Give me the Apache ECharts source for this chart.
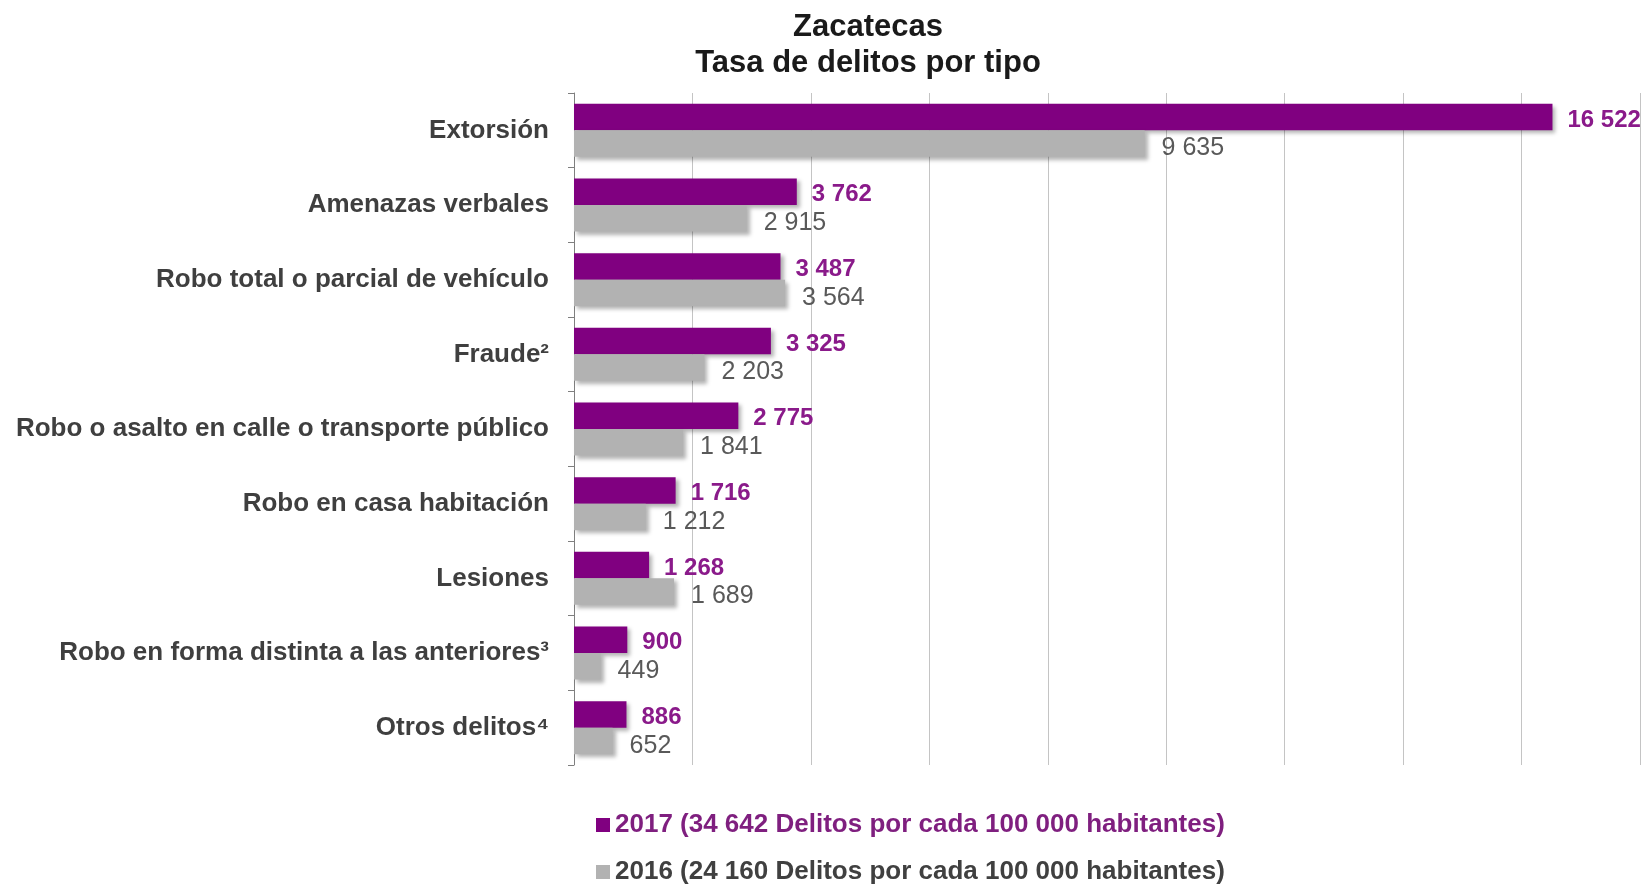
<!DOCTYPE html>
<html>
<head>
<meta charset="utf-8">
<script src="https://cdn.jsdelivr.net/npm/echarts@6/dist/echarts.min.js"></script>
<style>
html,body{margin:0;padding:0;background:#fff;}
#chart{width:1650px;height:885px;}
</style>
</head>
<body>
<div id="chart"></div>
<script>
const categories = [
  'Extorsión',
  'Amenazas verbales',
  'Robo total o parcial de vehículo',
  'Fraude²',
  'Robo o asalto en calle o transporte público',
  'Robo en casa habitación',
  'Lesiones',
  'Robo en forma distinta a las anteriores³',
  'Otros delitos⁴'
];
const values2017 = [16522, 3762, 3487, 3325, 2775, 1716, 1268, 900, 886];
const values2016 = [9635, 2915, 3564, 2203, 1841, 1212, 1689, 449, 652];
const seriesNames = [
  '2017 (34 642 Delitos por cada 100 000 habitantes)',
  '2016 (24 160 Delitos por cada 100 000 habitantes)'
];
const titleText = 'Zacatecas\nTasa de delitos por tipo';

function fmt(v) {
  return String(v).replace(/\B(?=(\d{3})+(?!\d))/g, ' ');
}

const FONT = '"Liberation Sans", Arial, sans-serif';
const chart = echarts.init(document.getElementById('chart'));
const shadow = {shadowBlur: 4, shadowOffsetX: 3, shadowOffsetY: 3, shadowColor: 'rgba(0,0,0,0.3)'};

chart.setOption({
  animation: false,
  backgroundColor: '#ffffff',
  title: {
    text: titleText,
    left: 863,
    top: 4,
    textAlign: 'center',
    textStyle: {fontFamily: FONT, fontSize: 31, fontWeight: 'bold', color: '#1a1a1a', lineHeight: 36}
  },
  legend: {
    orient: 'vertical',
    left: 591,
    top: 807,
    height: 200,
    itemWidth: 14,
    itemHeight: 14,
    itemGap: 21,
    icon: 'rect',
    textStyle: {fontFamily: FONT, fontSize: 26, fontWeight: 'bold', lineHeight: 26},
    data: [
      {name: seriesNames[0], textStyle: {color: '#7f1f7f'}},
      {name: seriesNames[1], textStyle: {color: '#404040'}}
    ]
  },
  grid: {left: 574, right: 10, top: 93, bottom: 120, containLabel: false},
  xAxis: {
    type: 'value',
    min: 0,
    max: 18000,
    interval: 2000,
    axisLine: {show: false},
    axisTick: {show: false},
    axisLabel: {show: false},
    splitLine: {show: true, lineStyle: {color: '#c4c4c4', width: 1}}
  },
  yAxis: {
    type: 'category',
    data: categories,
    inverse: true,
    axisLine: {show: true, lineStyle: {color: '#7f7f7f', width: 1}},
    axisTick: {show: true, length: 6, lineStyle: {color: '#7f7f7f'}},
    axisLabel: {fontFamily: FONT, fontSize: 26, fontWeight: 'bold', color: '#3f3f3f', margin: 25}
  },
  series: [
    {
      name: seriesNames[0],
      type: 'bar',
      data: values2017,
      barGap: '0%',
      barCategoryGap: '29%',
      itemStyle: Object.assign({color: '#800080'}, shadow),
      label: {
        show: true, position: 'right', distance: 15, offset: [0, 3],
        fontFamily: FONT, fontSize: 24, fontWeight: 'bold', color: '#8a1a8a',
        formatter: p => fmt(p.value)
      }
    },
    {
      name: seriesNames[1],
      type: 'bar',
      data: values2016,
      barGap: '0%',
      barCategoryGap: '29%',
      itemStyle: Object.assign({color: '#b2b2b2'}, shadow),
      label: {
        show: true, position: 'right', distance: 17, offset: [0, 5],
        fontFamily: FONT, fontSize: 25, fontWeight: 'normal', color: '#595959',
        formatter: p => fmt(p.value)
      }
    }
  ]
});
</script>
</body>
</html>
